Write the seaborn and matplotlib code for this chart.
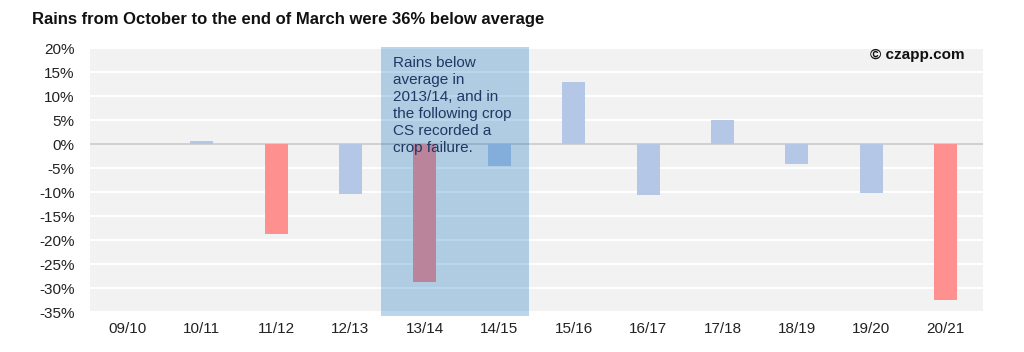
import matplotlib
matplotlib.use('Agg')
import matplotlib.pyplot as plt
import matplotlib.patches as mpatches
import seaborn as sns
import pandas as pd

# Datos
temporadas = ['09/10', '10/11', '11/12', '12/13', '13/14', '14/15',
              '15/16', '16/17', '17/18', '18/19', '19/20', '20/21']
desvio = [0.0, 0.7, -18.7, -10.5, -28.8, -4.6, 12.9, -10.6, 4.9, -4.2, -10.2, -32.5]
tipo = ['normal', 'normal', 'seco', 'normal', 'seco', 'normal',
        'normal', 'normal', 'normal', 'normal', 'normal', 'seco']
yticks = [20, 15, 10, 5, 0, -5, -10, -15, -20, -25, -30, -35]

df = pd.DataFrame({'temporada': temporadas, 'desvio': desvio, 'tipo': tipo})

sns.set_theme(style='white')
plt.rcParams['font.family'] = ['Liberation Sans', 'DejaVu Sans']

fig = plt.figure(figsize=(10.24, 3.52), dpi=100)
ax = fig.add_axes([0.0879, 0.1136, 0.872, 0.75])
ax.set_facecolor('#f2f2f2')

sns.barplot(data=df, x='temporada', y='desvio', hue='tipo',
            palette={'normal': '#b4c7e7', 'seco': '#ff9090'},
            width=0.31, dodge=False, legend=False, saturation=1,
            linewidth=0, ax=ax, zorder=3)

ax.set_ylim(-35, 20)
ax.set_xlim(-0.5, 11.5)
ax.set_yticks(yticks)
ax.set_yticklabels([f'{v}%' for v in yticks])
ax.yaxis.grid(True, color='white', linewidth=1.5, zorder=0)
ax.set_axisbelow(True)
ax.axhline(0, color='#c8c8c8', linewidth=1.2, zorder=2)
for s in ax.spines.values():
    s.set_visible(False)
ax.tick_params(axis='both', length=0, labelsize=11, colors='#222222')
ax.tick_params(axis='x', pad=7)
ax.tick_params(axis='y', pad=11)
ax.set_xlabel('')
ax.set_ylabel('')

# Recuadro de la sequía 2013/14 (azul translúcido por encima de las barras)
caja = mpatches.Rectangle((3.41, -35.8), 1.99, 56.1, facecolor='#0069ba',
                          alpha=0.27, edgecolor='none', zorder=4, clip_on=False)
ax.add_patch(caja)
ax.text(3.57, 18.4, 'Rains below\naverage in\n2013/14, and in\nthe following crop\nCS recorded a\ncrop failure.',
        color='#1f3864', fontsize=11, va='top', ha='left', linespacing=1.28, zorder=5)

ax.text(0.98, 0.973, '© czapp.com', transform=ax.transAxes, ha='right', va='center',
        fontsize=11, fontweight='bold', color='#111111', zorder=5)

fig.text(0.031, 0.945, 'Rains from October to the end of March were 36% below average',
         fontsize=12, fontweight='bold', color='#111111', ha='left', va='center')

fig.savefig('out.png', dpi=100)
